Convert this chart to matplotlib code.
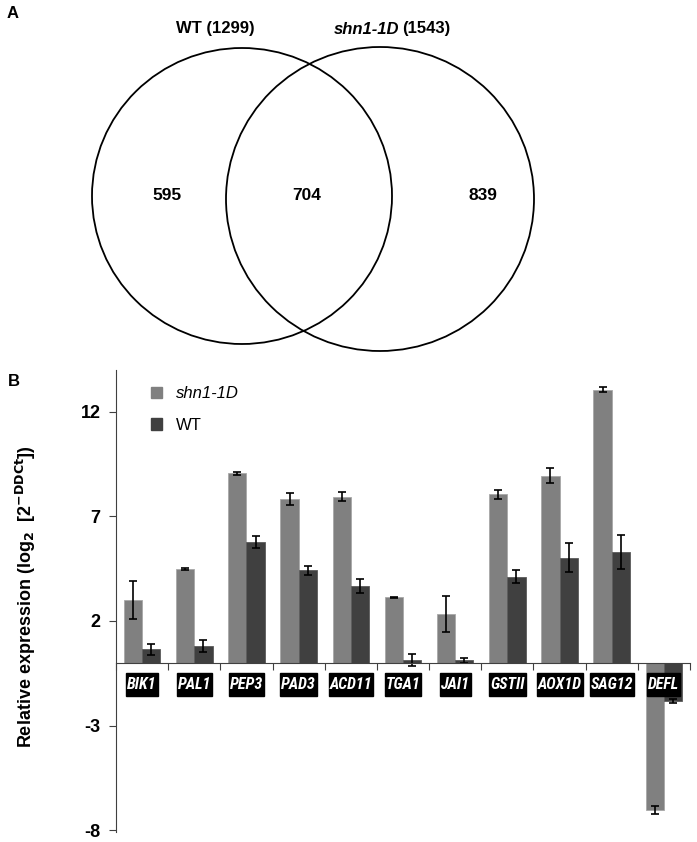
import matplotlib
matplotlib.use("Agg")
import matplotlib.pyplot as plt
from matplotlib.patches import Ellipse, Patch
from matplotlib.path import Path
from matplotlib import font_manager as fm
import numpy as np

# ---------------- data ----------------
venn_titles = ["WT (1299)", "(1543)"]
venn_counts = [595, 704, 839]

genes = ["BIK1", "PAL1", "PEP3", "PAD3", "ACD11", "TGA1", "JAI1", "GSTII", "AOX1D", "SAG12", "DEFL"]
shn_vals = [3.0, 4.47, 9.06, 7.82, 7.93, 3.12, 2.32, 8.05, 8.94, 13.05, -7.03]
shn_err = [0.9, 0.05, 0.08, 0.28, 0.22, 0.03, 0.85, 0.22, 0.37, 0.11, 0.2]
wt_vals = [0.64, 0.8, 5.76, 4.41, 3.66, 0.13, 0.13, 4.12, 5.02, 5.31, -1.81]
wt_err = [0.27, 0.3, 0.29, 0.2, 0.33, 0.3, 0.12, 0.31, 0.7, 0.82, 0.1]
yticks = [12, 7, 2, -3, -8]

# fonts
names = {f.name for f in fm.fontManager.ttflist}
sans = "Liberation Sans"
narrow = None
for cand, sz in [("Liberation Sans Narrow", 12.0), ("DejaVu Sans Condensed", 10.5),
                 ("Roboto Condensed", 11.5), ("Open Sans Condensed", 11.5)]:
    if cand in names:
        narrow, gsize = cand, sz
        break
if narrow is None:
    narrow, gsize = sans, 10.5


def tallbox(x0, y0, width, height, mutation_size):
    px = 0.06 * mutation_size
    py = 0.25 * mutation_size
    x0, y0 = x0 - px, y0 - py
    x1, y1 = x0 + width + 2 * px, y0 + height + 2 * py
    return Path([(x0, y0), (x1, y0), (x1, y1), (x0, y1), (x0, y0)], closed=True)


W, H = 697, 842
fig = plt.figure(figsize=(W / 100, H / 100), dpi=100)

# ---------------- panel A : Venn ----------------
axv = fig.add_axes([0, 0, 1, 1])
axv.set_xlim(0, W)
axv.set_ylim(H, 0)
axv.axis("off")
axv.add_patch(Ellipse((242, 196), 300, 296, fill=False, lw=1.3, ec="black"))
axv.add_patch(Ellipse((380, 199), 308, 304, fill=False, lw=1.3, ec="black"))
axv.text(7, 13, "A", fontsize=12, fontweight="bold", family=sans, va="center")
axv.text(215, 29, venn_titles[0], fontsize=12, fontweight="bold", family=sans, ha="center", va="center")
axv.text(399, 29, "shn1-1D", fontsize=12, fontweight="bold", style="italic", family=sans, ha="right", va="center")
axv.text(402, 29, venn_titles[1], fontsize=12, fontweight="bold", family=sans, ha="left", va="center")
for x, c in zip([167, 307, 483], venn_counts):
    axv.text(x, 196, str(c), fontsize=12.5, fontweight="bold", family=sans, ha="center", va="center")
axv.text(8, 382, "B", fontsize=12, fontweight="bold", family=sans, va="center")

# ---------------- panel B : bars ----------------
left_px, right_px = 116, 690
top_px, bot_px = 369.8, 832.3
ax = fig.add_axes([left_px / W, (H - bot_px) / H, (right_px - left_px) / W, (bot_px - top_px) / H])
x = np.arange(len(genes))
bw = 0.35
grey = "#808080"
dark = "#404040"
ax.bar(x - bw / 2, shn_vals, bw, color=grey, edgecolor="#a8a8a8", linewidth=0.6,
       yerr=shn_err, error_kw=dict(ecolor="black", elinewidth=1.2, capsize=3, capthick=1.2), zorder=2)
ax.bar(x + bw / 2, wt_vals, bw, color=dark, edgecolor="#5a5a5a", linewidth=0.6,
       yerr=wt_err, error_kw=dict(ecolor="black", elinewidth=1.2, capsize=3, capthick=1.2), zorder=2)

ax.set_xlim(-0.5, len(genes) - 0.5)
ax.set_ylim(-8.1, 14.0)
ax.spines["top"].set_visible(False)
ax.spines["right"].set_visible(False)
ax.spines["bottom"].set_position(("data", 0))
ax.spines["left"].set_color("#404040")
ax.spines["bottom"].set_color("#404040")
ax.set_xticks(np.arange(-0.5, len(genes), 1.0))
ax.set_xticklabels([])
ax.tick_params(axis="x", direction="out", length=5, color="#404040")
ax.set_yticks(yticks)
ax.set_yticklabels([str(t) for t in yticks], fontsize=13, fontweight="bold", family=sans)
ax.tick_params(axis="y", direction="out", length=5, color="#404040", pad=6)

for xi, g in zip(x, genes):
    ax.text(xi, -1.03, g, ha="center", va="center", color="white", fontsize=gsize,
            fontweight="bold", style="italic", family=[narrow, sans],
            bbox=dict(boxstyle=tallbox, fc="black", ec="black"), zorder=3)

ax.set_ylabel(r"Relative expression (log$_\mathbf{2}$  [2$^\mathbf{-DDCt}$])", fontsize=13,
              fontweight="bold", family=sans)
ax.yaxis.set_label_coords(-0.136, 0.51)

# legend
handles = [Patch(facecolor=grey, edgecolor=grey), Patch(facecolor=dark, edgecolor=dark)]
leg = ax.legend(handles, ["shn1-1D", "WT"], loc="upper left", bbox_to_anchor=(0.035, 0.997),
                frameon=False, handlelength=0.66, handleheight=0.66, handletextpad=0.85,
                labelspacing=1.0, prop=dict(family=sans, size=12))
leg.get_texts()[0].set_style("italic")

fig.savefig("out.png", dpi=100)
